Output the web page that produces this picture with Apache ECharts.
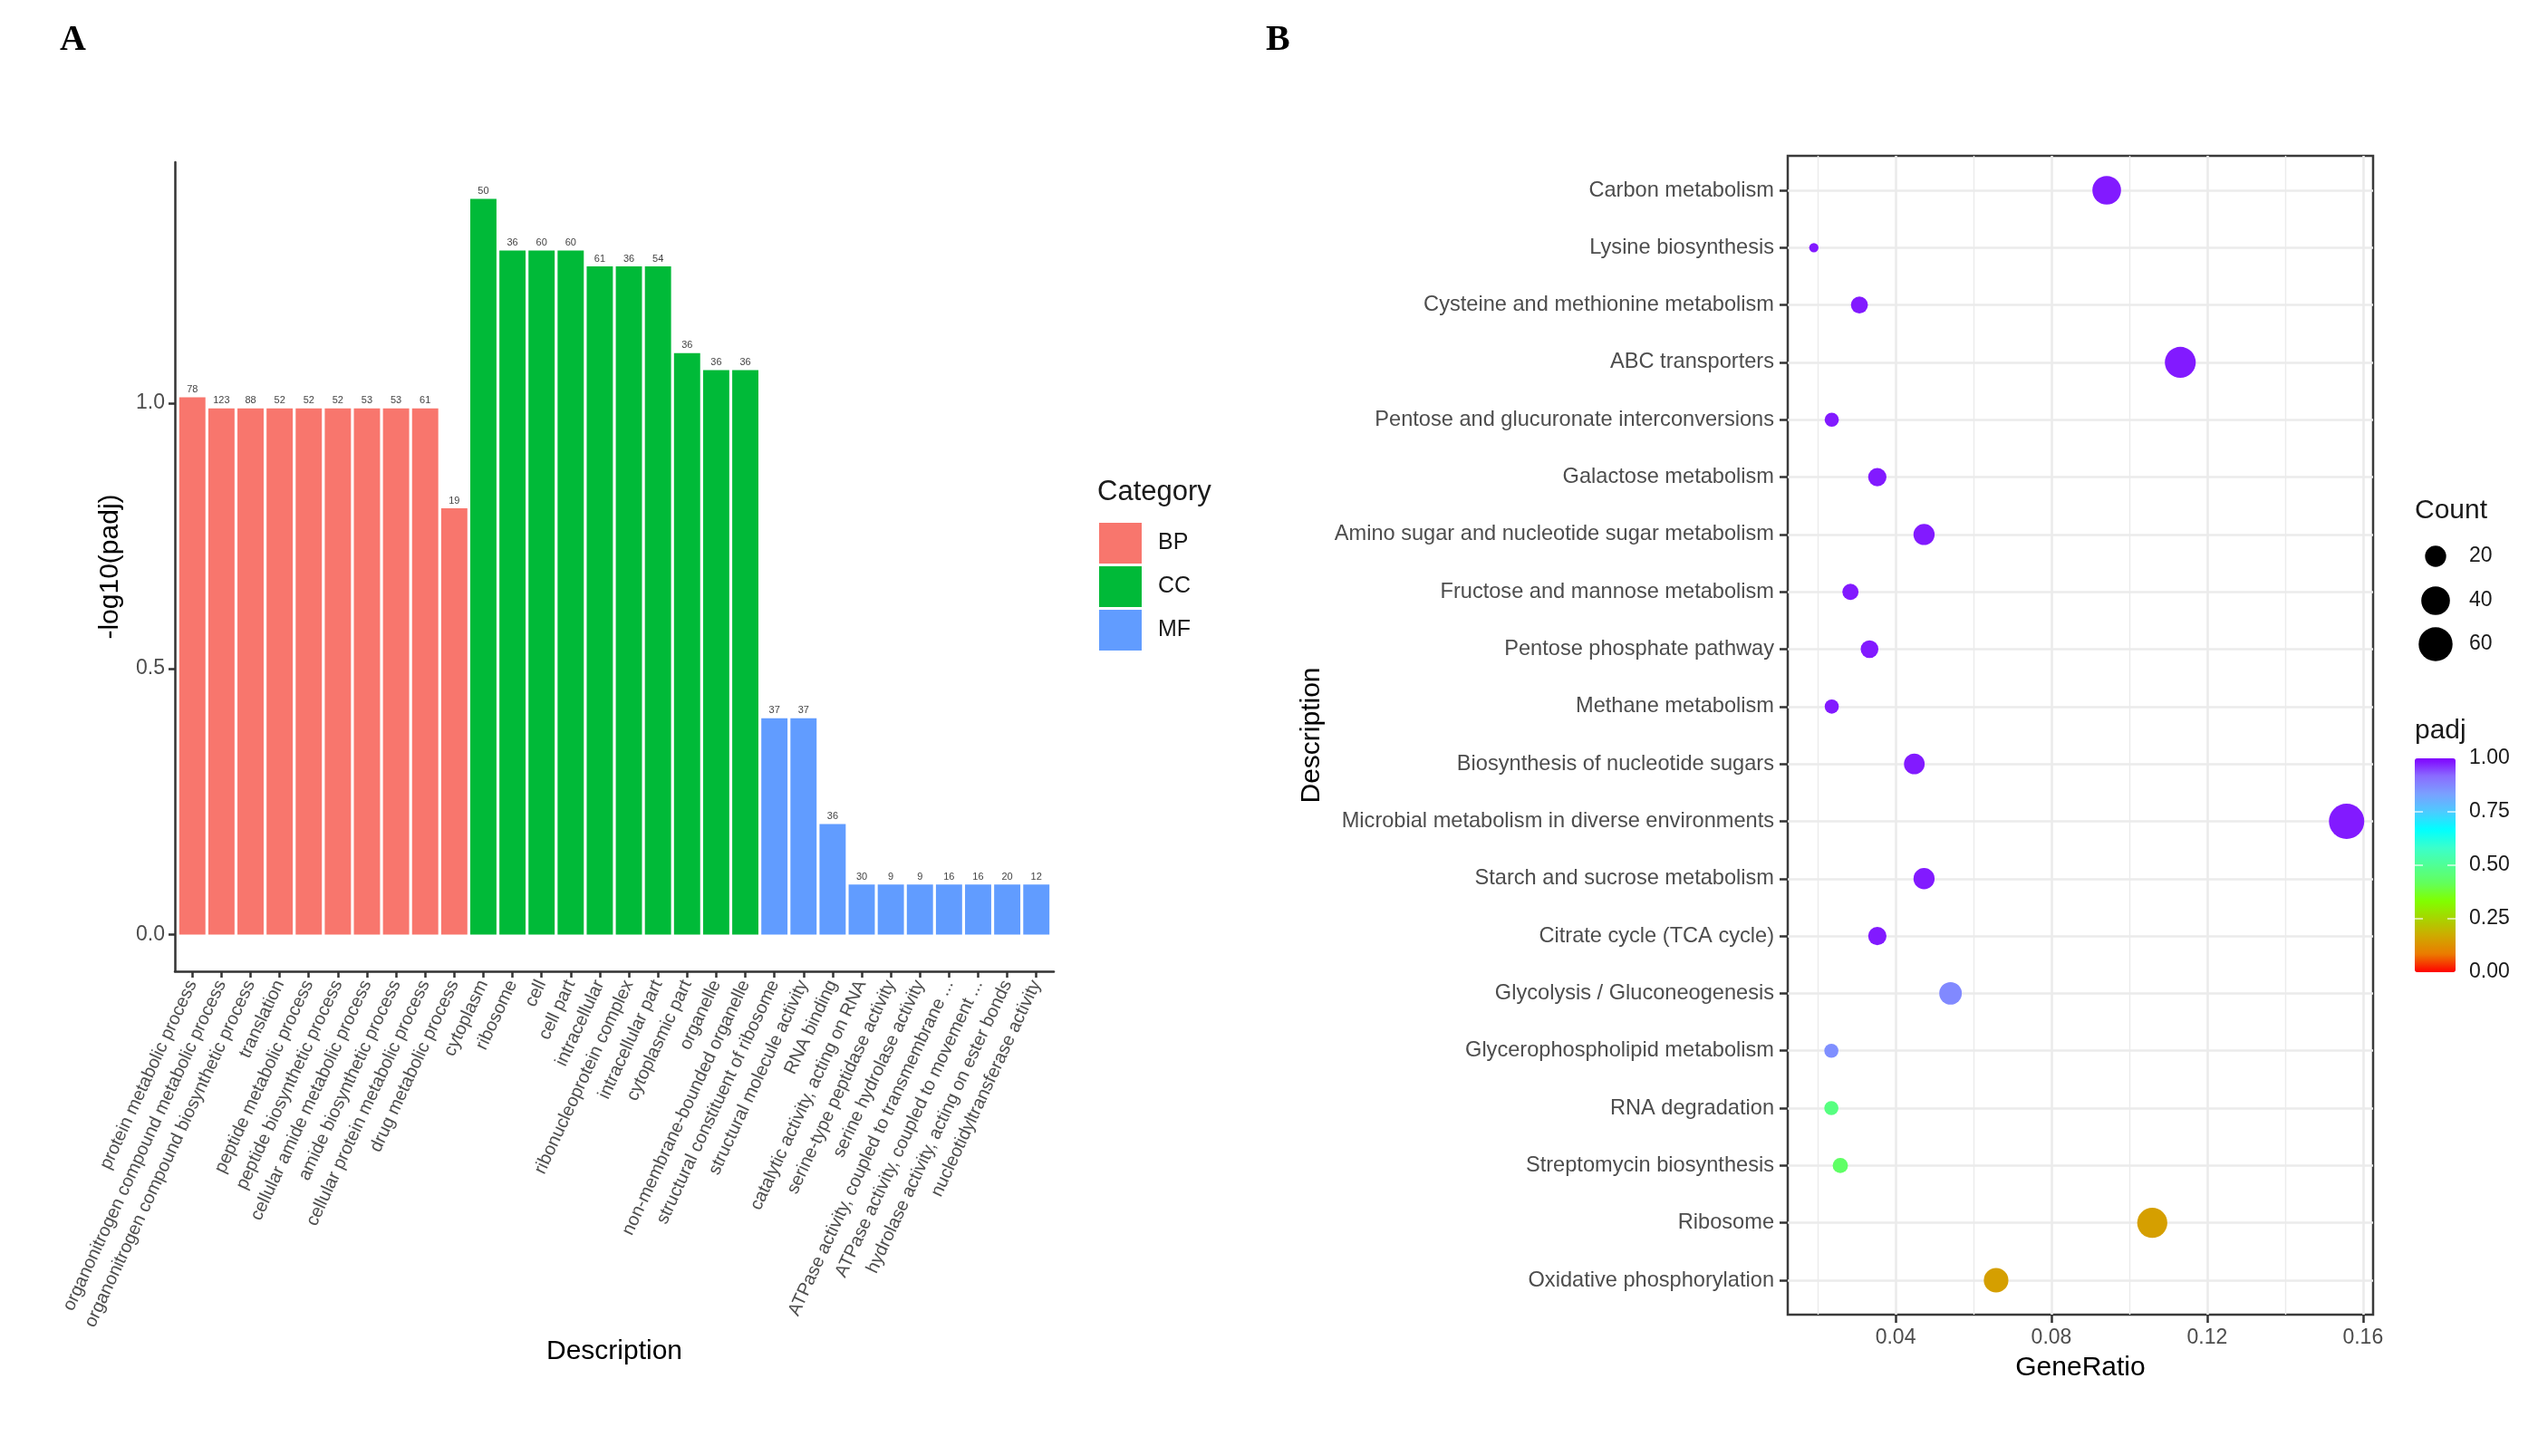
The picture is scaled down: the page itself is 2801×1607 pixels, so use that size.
<!DOCTYPE html>
<html><head><meta charset="utf-8">
<script src="https://cdn.jsdelivr.net/npm/echarts@6/dist/echarts.min.js"></script>
<style>html,body{margin:0;padding:0;background:#fff}#c{width:2801px;height:1607px}</style>
</head><body><div id="c"></div>
<script>
// ---------- Panel A data (GO enrichment) ----------
const bpTerms = ['protein metabolic process','organonitrogen compound metabolic process','organonitrogen compound biosynthetic process','translation','peptide metabolic process','peptide biosynthetic process','cellular amide metabolic process','amide biosynthetic process','cellular protein metabolic process','drug metabolic process'];
const bpValues = [1.011, 0.990, 0.990, 0.990, 0.990, 0.990, 0.990, 0.990, 0.990, 0.802];
const bpCounts = [78, 123, 88, 52, 52, 52, 53, 53, 61, 19];

const ccTerms = ['cytoplasm','ribosome','cell','cell part','intracellular','ribonucleoprotein complex','intracellular part','cytoplasmic part','organelle','non-membrane-bounded organelle'];
const ccValues = [1.384, 1.287, 1.287, 1.287, 1.257, 1.257, 1.257, 1.094, 1.062, 1.062];
const ccCounts = [50, 36, 60, 60, 61, 36, 54, 36, 36, 36];

const mfTerms = ['structural constituent of ribosome','structural molecule activity','RNA binding','catalytic activity, acting on RNA','serine-type peptidase activity','serine hydrolase activity','ATPase activity, coupled to transmembrane ...','ATPase activity, coupled to movement ...','hydrolase activity, acting on ester bonds','nucleotidyltransferase activity'];
const mfValues = [0.407, 0.407, 0.208, 0.094, 0.094, 0.094, 0.094, 0.094, 0.094, 0.094];
const mfCounts = [37, 37, 36, 30, 9, 9, 16, 16, 20, 12];

const categoryNames = ['BP', 'CC', 'MF'];
const yTicksA = [0, 0.5, 1.0];

// ---------- Panel B data (KEGG dot plot) ----------
const keggTerms = ['Carbon metabolism','Lysine biosynthesis','Cysteine and methionine metabolism','ABC transporters','Pentose and glucuronate interconversions','Galactose metabolism','Amino sugar and nucleotide sugar metabolism','Fructose and mannose metabolism','Pentose phosphate pathway','Methane metabolism','Biosynthesis of nucleotide sugars','Microbial metabolism in diverse environments','Starch and sucrose metabolism','Citrate cycle (TCA cycle)','Glycolysis / Gluconeogenesis','Glycerophospholipid metabolism','RNA degradation','Streptomycin biosynthesis','Ribosome','Oxidative phosphorylation'];
const geneRatio = [0.0942, 0.0190, 0.0307, 0.1131, 0.0236, 0.0353, 0.0473, 0.0284, 0.0333, 0.0236, 0.0448, 0.1558, 0.0473, 0.0353, 0.0541, 0.0235, 0.0235, 0.0258, 0.1059, 0.0658];
const keggCount = [40, 8, 13, 48, 10, 15, 20, 12, 14, 10, 19, 66, 20, 15, 23, 10, 10, 11, 45, 28];
const keggPadj = [0.98, 0.98, 0.98, 0.98, 0.98, 0.98, 0.98, 0.98, 0.98, 0.98, 0.98, 0.98, 0.98, 0.98, 0.87, 0.86, 0.47, 0.43, 0.15, 0.15];
const xTicksB = [0.04, 0.08, 0.12, 0.16];
const xMinorB = [0.02, 0.06, 0.10, 0.14];
const padjTicks = [1.00, 0.75, 0.50, 0.25, 0.00];
const countLegend = [20, 40, 60];

// ---------- styles ----------
const FONT = 'Liberation Sans';
const catColors = ['#F8766D', '#00BA38', '#619CFF'];
const padjColors = ['#FF0000','#EB7A00','#D0A800','#A8D400','#80FF00','#62FF5C','#50FF95','#3AFFCC','#00FFFF','#4CCBFF','#7AA0FF','#8A6CFF','#8000FF'];

const termsA = bpTerms.concat(ccTerms, mfTerms);
const posA = termsA.map((_, i) => i + 1);
const groups = [[bpValues, bpCounts], [ccValues, ccCounts], [mfValues, mfCounts]];
let offset = 0;
const barSeries = groups.map((g, k) => {
  const start = offset;
  offset += g[0].length;
  return {
    type: 'bar', name: categoryNames[k], xAxisIndex: 0, yAxisIndex: 0,
    barWidth: '90%', barGap: '-100%',
    itemStyle: { color: catColors[k] },
    label: { show: true, position: 'top', distance: 3, fontSize: 11, color: '#444', fontFamily: FONT,
             formatter: p => String(p.data[2]) },
    data: g[0].map((v, i) => [start + i + 1, v, g[1][i]])
  };
});

const cMin = Math.min(...keggCount), cMax = Math.max(...keggCount);
const sizeOf = c => 10.3 + 28.7 * Math.sqrt(Math.max(0, c - cMin) / (cMax - cMin));
const yPosB = keggTerms.map((_, i) => i + 1);

const countCenters = [614, 663, 711];
const legendX = 2688, legendTextX = 2725;
const countLegends = countLegend.map((c, i) => {
  const d = sizeOf(c);
  return {
    data: [{ name: String(c), icon: 'circle', itemStyle: { color: '#000', opacity: 1 } }],
    left: legendX - d / 2, top: countCenters[i] - d / 2,
    itemWidth: d, itemHeight: d, padding: 0, selectedMode: false,
    textStyle: { fontSize: 23, color: '#1a1a1a', fontFamily: FONT, padding: [0, 0, 0, legendTextX - (legendX + d / 2 + 5)] }
  };
});
const countSeries = countLegend.map(c => ({
  type: 'scatter', name: String(c), xAxisIndex: 1, yAxisIndex: 1, data: [], itemStyle: { color: '#000', opacity: 1 }
}));

const barTop = 837, barH = 236, barLeft = 2665, barW = 45;
const graphics = [];
padjTicks.forEach(v => {
  const y = barTop + (1 - v) * barH;
  graphics.push({ type: 'text', left: legendTextX, top: y - 12, style: { text: v.toFixed(2), fontSize: 23, fill: '#1a1a1a', fontFamily: FONT } });
  if (v > 0 && v < 1) {
    graphics.push({ type: 'line', shape: { x1: barLeft, y1: y, x2: barLeft + 9, y2: y }, style: { stroke: '#fff', lineWidth: 1.5, opacity: 0.8 }, z: 100 });
    graphics.push({ type: 'line', shape: { x1: barLeft + barW - 9, y1: y, x2: barLeft + barW, y2: y }, style: { stroke: '#fff', lineWidth: 1.5, opacity: 0.8 }, z: 100 });
  }
});

const axisLineStyle = { color: '#333', width: 2.5 };

const option = {
  backgroundColor: '#fff',
  animation: false,
  textStyle: { fontFamily: FONT },
  title: [
    { text: 'A', left: 66, top: 25, padding: 0, textStyle: { fontFamily: 'Liberation Serif', fontWeight: 'bold', fontSize: 40, color: '#000' } },
    { text: 'B', left: 1397, top: 25, padding: 0, textStyle: { fontFamily: 'Liberation Serif', fontWeight: 'bold', fontSize: 40, color: '#000' } },
    { text: 'Category', left: 1211, top: 528, padding: 0, textStyle: { fontFamily: FONT, fontWeight: 'normal', fontSize: 31, color: '#1a1a1a' } },
    { text: 'Count', left: 2665, top: 549, padding: 0, textStyle: { fontFamily: FONT, fontWeight: 'normal', fontSize: 30, color: '#1a1a1a' } },
    { text: 'padj', left: 2665, top: 792, padding: 0, textStyle: { fontFamily: FONT, fontWeight: 'normal', fontSize: 30, color: '#1a1a1a' } }
  ],
  legend: [
    { data: categoryNames, orient: 'vertical', left: 1213, top: 577, itemWidth: 47, itemHeight: 45, itemGap: 3, icon: 'rect', padding: 0, selectedMode: false,
      textStyle: { fontSize: 25, color: '#1a1a1a', fontFamily: FONT, padding: [0, 0, 0, 13] } }
  ].concat(countLegends),
  grid: [
    { left: 193, top: 179, width: 970, height: 893, show: false },
    { left: 1973, top: 172, width: 646, height: 1279, show: true, borderColor: '#3a3a3a', borderWidth: 2.5, backgroundColor: 'rgba(0,0,0,0)' }
  ],
  xAxis: [
    { gridIndex: 0, type: 'value', min: 0.4, max: 30.6,
      axisLine: { show: true, onZero: false, lineStyle: axisLineStyle },
      axisTick: { show: true, customValues: posA, length: 7, lineStyle: axisLineStyle },
      axisLabel: { customValues: posA, rotate: 65, fontSize: 20, color: '#4d4d4d', margin: 11, fontFamily: FONT,
                   formatter: v => termsA[Math.round(v) - 1] || '' },
      splitLine: { show: false },
      name: 'Description', nameLocation: 'middle', nameGap: 405,
      nameTextStyle: { fontSize: 30, color: '#000', fontFamily: FONT } },
    { gridIndex: 1, type: 'value', min: 0.0123, max: 0.1626,
      axisLine: { show: false },
      axisTick: { show: true, customValues: xTicksB, length: 9, lineStyle: axisLineStyle },
      axisLabel: { customValues: xTicksB, fontSize: 23, color: '#4d4d4d', margin: 14, fontFamily: FONT, formatter: v => v.toFixed(2) },
      splitLine: { show: true, lineStyle: { color: '#ebebeb', width: 2.6 } },
      name: 'GeneRatio', nameLocation: 'middle', nameGap: 44,
      nameTextStyle: { fontSize: 30, color: '#000', fontFamily: FONT } },
    { gridIndex: 1, type: 'value', min: 0.0123, max: 0.1626,
      axisLine: { show: false },
      axisTick: { show: false, customValues: xMinorB },
      axisLabel: { show: false },
      splitLine: { show: true, lineStyle: { color: '#ebebeb', width: 1.4 } } }
  ],
  yAxis: [
    { gridIndex: 0, type: 'value', min: -0.0692, max: 1.4532,
      axisLine: { show: true, onZero: false, lineStyle: axisLineStyle },
      axisTick: { show: true, customValues: yTicksA, length: 7, lineStyle: axisLineStyle },
      axisLabel: { customValues: yTicksA, fontSize: 23, color: '#4d4d4d', margin: 11, fontFamily: FONT, formatter: v => v.toFixed(1) },
      splitLine: { show: false },
      name: '-log10(padj)', nameLocation: 'middle', nameGap: 56, nameRotate: 90,
      nameTextStyle: { fontSize: 30, color: '#000', fontFamily: FONT } },
    { gridIndex: 1, type: 'value', inverse: true, min: 0.4, max: 20.6,
      axisLine: { show: false },
      axisTick: { show: true, customValues: yPosB, length: 9, lineStyle: axisLineStyle },
      axisLabel: { customValues: yPosB, fontSize: 23.6, color: '#4d4d4d', margin: 15, fontFamily: FONT,
                   formatter: v => keggTerms[Math.round(v) - 1] || '' },
      splitLine: { show: true, lineStyle: { color: '#ebebeb', width: 2.6 } },
      name: 'Description', nameLocation: 'middle', nameGap: 510, nameRotate: 90,
      nameTextStyle: { fontSize: 30, color: '#000', fontFamily: FONT } }
  ],
  visualMap: [
    { type: 'continuous', seriesIndex: 3, dimension: 3, min: 0, max: 1, inRange: { color: padjColors },
      orient: 'vertical', left: barLeft, top: barTop, itemWidth: barW, itemHeight: barH,
      calculable: false, text: null, padding: 0, hoverLink: false, showLabel: false }
  ],
  graphic: graphics,
  series: barSeries.concat([
    { type: 'scatter', name: 'KEGG', xAxisIndex: 1, yAxisIndex: 1, z: 5,
      itemStyle: { opacity: 1 },
      symbolSize: v => sizeOf(v[2]),
      data: keggTerms.map((t, i) => [geneRatio[i], yPosB[i], keggCount[i], keggPadj[i]]) }
  ], countSeries)
};

const chart = echarts.init(document.getElementById('c'), null, { renderer: 'canvas' });
chart.setOption(option);
</script>
</body></html>
